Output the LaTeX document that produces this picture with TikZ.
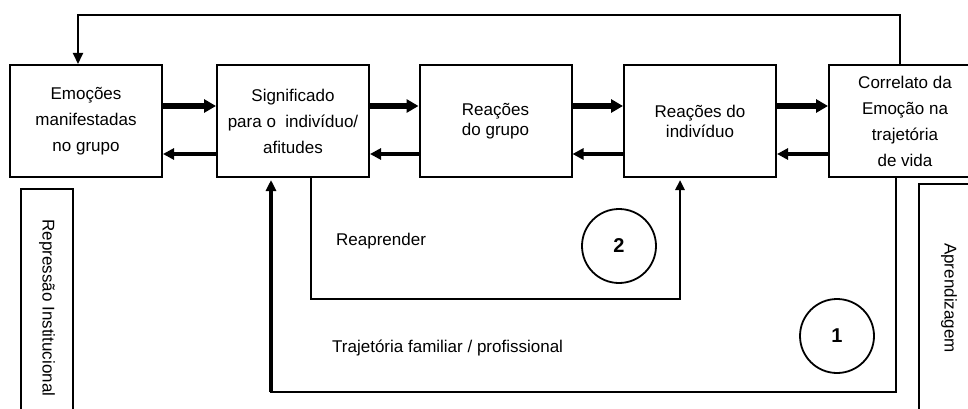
\documentclass[tikz,border=0pt]{standalone}
\usepackage{fontspec}
\setmainfont{Liberation Sans}
\usetikzlibrary{arrows.meta,calc}

\tikzset{
  stage/.style={draw, line width=2pt, minimum width=152pt, minimum height=112pt,
    inner sep=0pt, align=center, font=\fontsize{17}{26}\selectfont},
  stagetwo/.style={stage, font=\fontsize{17}{20}\selectfont},
  forwardarrow/.style={line width=5.5pt, -{Triangle[length=12pt,width=13pt]}},
  backarrow/.style={line width=4pt, -{Triangle[length=11pt,width=11pt]}},
  looparrow/.style={line width=2.5pt, -{Triangle[length=10pt,width=9pt]}},
  bigloop/.style={line width=4pt, -{Triangle[length=11pt,width=10pt]}},
  plainline/.style={line width=2pt},
  sidebox/.style={draw, line width=2pt},
  label/.style={font=\fontsize{17}{20}\selectfont, inner sep=0pt},
  marker/.style={draw, circle, line width=1.8pt, minimum size=74pt, inner sep=0pt,
    font=\fontsize{20}{20}\selectfont\bfseries}
}

\begin{document}
\begin{tikzpicture}[x=1pt, y=-1pt]
  \useasboundingbox (0,0) rectangle (968,409);

  % main chain of stages
  \node[stage]    (b1) at (86,121)    {Emoções\\manifestadas\\no grupo};
  \node[stage]    (b2) at (293,121)   {Significado\\para o\ \ indivíduo/\\afitudes};
  \node[stagetwo] (b3) at (495.5,121) {Reações\\do grupo};
  \node[stagetwo] (b4) at (700,121)   {Reações do\\indivíduo};
  \node[stage]    (b5) at (905,121)   {Correlato da\\Emoção na\\trajetória\\de vida};

  % forward (upper) and backward (lower) arrows between stages
  \foreach \a/\b in {b1/b2, b2/b3, b3/b4, b4/b5}{
    \draw[forwardarrow] ([yshift=15pt]\a.east) -- ([yshift=15pt]\b.west);
    \draw[backarrow] ([yshift=-33pt]\b.west) -- ([yshift=-33pt]\a.east);
  }

  % feedback along the top
  \coordinate (topR) at ([xshift=-5pt]b5.north);
  \coordinate (topL) at ([xshift=-8pt]b1.north);
  \draw[plainline, -{Triangle[length=11pt,width=10pt]}]
    (topR) -- ++(0,-49) -| (topL);

  % loop 2: Reaprender
  \coordinate (rStart) at ([xshift=18pt]b2.south);
  \coordinate (rEnd) at ([xshift=-20pt]b4.south);
  \draw[looparrow] (rStart) -- ++(0,121) -| ([yshift=-2pt]rEnd);

  % loop 1: family / professional path
  \coordinate (tStart) at ([xshift=-9pt]b5.south);
  \coordinate (tEnd) at ([xshift=-22pt]b2.south);
  \draw[plainline] (tStart) -- ++(0,214) -| ([xshift=0pt]tEnd |- 0,300);
  \draw[bigloop] ($(tEnd)+(0,214)$) -- ([yshift=-2pt]tEnd);

  % side bars
  \draw[sidebox] (21,189) rectangle (73,430);
  \node[label, rotate=-90] (repr) at (47,308) {Repressão Institucional};
  \draw[sidebox] (919,184) rectangle (990,430);
  \node[label, rotate=-90] (aprend) at (949,298) {Aprendizagem};

  % loop labels
  \node[label, anchor=west] (reap) at (336,241) {Reaprender};
  \node[label, anchor=west] (traj) at (332,348) {Trajetória familiar / profissional};

  % numbered markers
  \node[marker] (m2) at (619,246) {2};
  \node[marker] (m1) at (837,336) {1};
\end{tikzpicture}
\end{document}
